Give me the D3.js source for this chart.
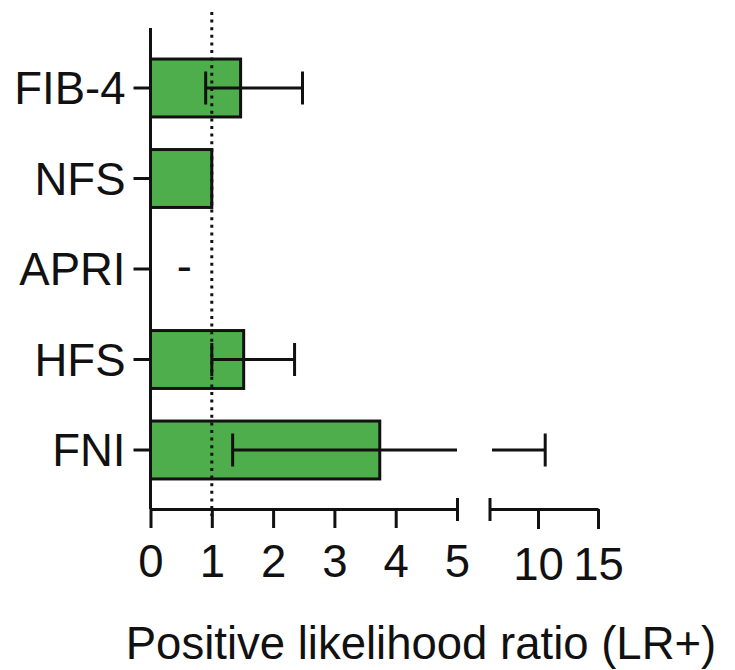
<!DOCTYPE html>
<html>
<head>
<meta charset="utf-8">
<script src="https://cdn.jsdelivr.net/npm/d3@7"></script>
<style>
  html, body { margin: 0; padding: 0; background: #fff; }
  svg { display: block; }
  text { font-family: "Liberation Sans", Arial, sans-serif; }
</style>
</head>
<body>
<svg id="chart" width="735" height="670"></svg>
<script>
// ---- data ----
const categories = ["FIB-4", "NFS", "APRI", "HFS", "FNI"];
const lrValues   = [1.47, 1.0, null, 1.52, 3.74];
const ciLow      = [0.9, null, null, 1.0, 1.34];
const ciHigh     = [2.48, null, null, 2.35, 10.6];
const missingMark = [null, null, 0.55, null, null]; // "-" shown for APRI
const ticksLeft  = [0, 1, 2, 3, 4, 5];
const ticksRight = [10, 15];
const refLine    = 1;
const axisTitle  = "Positive likelihood ratio (LR+)";

// ---- layout ----
const svg = d3.select("#chart");
const FONT = 45.5;
const green = "#4dae4b";
const axisY = 509;

const xLeft  = d3.scaleLinear().domain([0, 5]).range([150.5, 457]);
const xRight = d3.scaleLinear().domain([6, 15]).range([490, 598]);
const X = v => v <= 5 ? xLeft(v) : xRight(v);

const y = d3.scaleBand().domain(categories)
  .range([42.75, 495.25]).paddingInner(0.36).paddingOuter(0.18);

const rows = categories.map((c, i) => ({
  cat: c, v: lrValues[i], lo: ciLow[i], hi: ciHigh[i], miss: missingMark[i]
}));

// bars
svg.append("g").selectAll("rect")
  .data(rows.filter(d => d.v != null))
  .join("rect")
  .attr("x", xLeft(0))
  .attr("y", d => y(d.cat))
  .attr("width", d => xLeft(d.v) - xLeft(0))
  .attr("height", y.bandwidth())
  .attr("fill", green)
  .attr("stroke", "#111")
  .attr("stroke-width", 3);

// reference dotted line
svg.append("line")
  .attr("x1", xLeft(refLine)).attr("x2", xLeft(refLine))
  .attr("y1", 12).attr("y2", 516)
  .attr("stroke", "#111").attr("stroke-width", 3)
  .attr("stroke-dasharray", "3,4.6");

// error bars
const eb = svg.append("g").attr("stroke", "#111").attr("stroke-width", 3).attr("fill", "none");
const cap = 16.5;
rows.filter(d => d.lo != null).forEach(d => {
  const cy = y(d.cat) + y.bandwidth() / 2;
  if (d.hi <= 5) {
    eb.append("line").attr("x1", X(d.lo)).attr("x2", X(d.hi)).attr("y1", cy).attr("y2", cy);
  } else {
    eb.append("line").attr("x1", X(d.lo)).attr("x2", xLeft(5)).attr("y1", cy).attr("y2", cy);
    eb.append("line").attr("x1", xRight(6) + 2).attr("x2", X(d.hi)).attr("y1", cy).attr("y2", cy);
  }
  [d.lo, d.hi].forEach(v => {
    eb.append("line").attr("x1", X(v)).attr("x2", X(v)).attr("y1", cy - cap).attr("y2", cy + cap);
  });
});

// missing marks
svg.append("g").selectAll("text")
  .data(rows.filter(d => d.miss != null))
  .join("text")
  .attr("x", d => xLeft(d.miss))
  .attr("y", d => y(d.cat) + y.bandwidth() / 2 + 13)
  .attr("text-anchor", "middle")
  .attr("font-size", FONT)
  .attr("fill", "#111")
  .text("-");

// y axis
const gy = svg.append("g").attr("transform", `translate(${xLeft(0)},0)`)
  .call(d3.axisLeft(y).tickSize(17).tickPadding(8));
gy.select(".domain").remove();
gy.selectAll(".tick line").attr("stroke", "#111").attr("stroke-width", 3);
gy.selectAll(".tick text").attr("font-size", FONT).attr("fill", "#111").attr("dy", "0.36em");
svg.append("line").attr("x1", xLeft(0)).attr("x2", xLeft(0)).attr("y1", 28).attr("y2", axisY)
  .attr("stroke", "#111").attr("stroke-width", 3);

// x axis (broken)
const fmt = d3.format("d");
const gx1 = svg.append("g").attr("transform", `translate(0,${axisY})`)
  .call(d3.axisBottom(xLeft).tickValues(ticksLeft).tickFormat(fmt).tickSize(19).tickSizeOuter(0).tickPadding(17));
const gx2 = svg.append("g").attr("transform", `translate(0,${axisY})`)
  .call(d3.axisBottom(xRight).tickValues(ticksRight).tickFormat(fmt).tickSize(20).tickSizeOuter(0).tickPadding(19));
[gx1, gx2].forEach(g => {
  g.select(".domain").attr("stroke", "#111").attr("stroke-width", 3);
  g.selectAll(".tick line").attr("stroke", "#111").attr("stroke-width", 3);
  g.selectAll(".tick text").attr("font-size", FONT).attr("fill", "#111");
});
// break caps: at end of left segment (5) and start of right segment
gx1.selectAll(".tick").filter(d => d === 5).select("line").attr("y1", -11).attr("y2", 12);
svg.append("line").attr("x1", xRight(6)).attr("x2", xRight(6))
  .attr("y1", axisY - 11).attr("y2", axisY + 12)
  .attr("stroke", "#111").attr("stroke-width", 3);

// axis title
svg.append("text")
  .attr("x", 421).attr("y", 659)
  .attr("text-anchor", "middle")
  .attr("font-size", FONT)
  .attr("fill", "#111")
  .text(axisTitle);
</script>
</body>
</html>
